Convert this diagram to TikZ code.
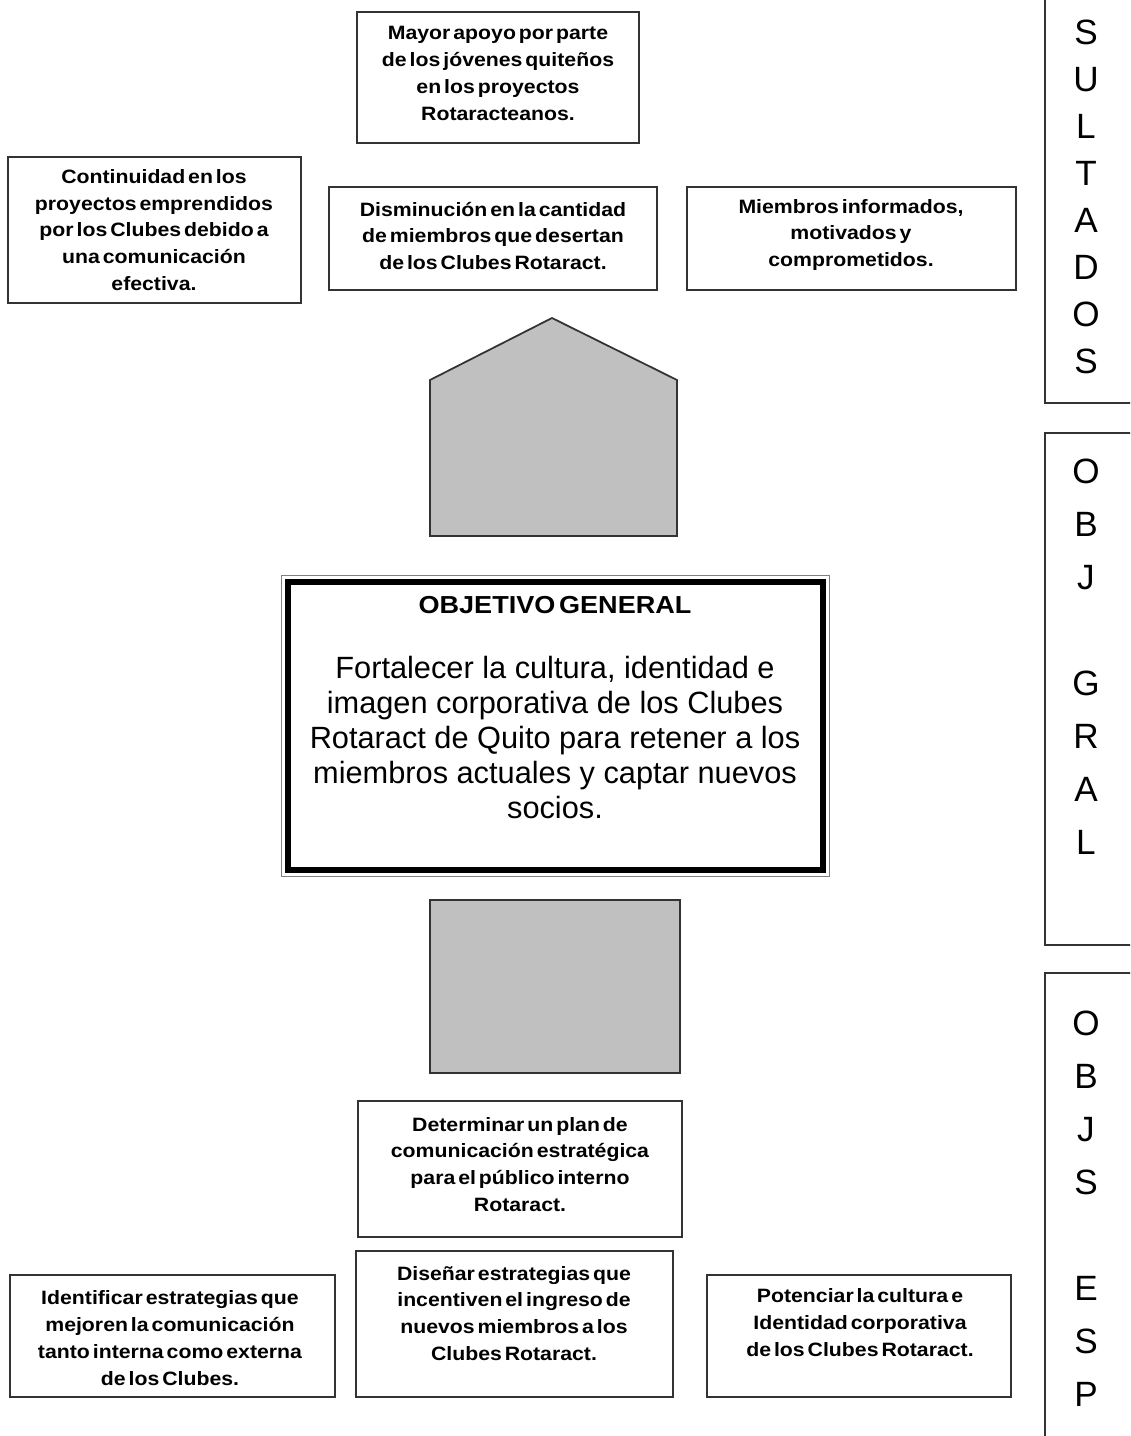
\documentclass[tikz,border=0pt]{standalone}
\usepackage{fontspec}
\setmainfont{Liberation Sans}
\newfontfamily\boxfont[FakeStretch=1.1,WordSpace=0.5]{Liberation Sans}
\usepackage{xcolor}
\usepackage{tikz}
\usetikzlibrary{calc,positioning}
\definecolor{edgegray}{HTML}{333333}
\definecolor{fillgray}{HTML}{C0C0C0}
\tikzset{
  box/.style={draw=edgegray,line width=0.9pt,inner sep=0pt},
  boxtxt/.style={align=center,inner sep=0pt,font={\boxfont\bfseries\fontsize{11pt}{15.3pt}\selectfont}},
  grayshape/.style={draw=edgegray,line width=1pt,fill=fillgray},
  colltr/.style={align=center,inner sep=0pt}
}

\begin{document}
\begin{tikzpicture}[x=0.02cm,y=-0.02cm]
\clip (0,0) rectangle (1130,1436);
\fill[white] (0,0) rectangle (1130,1436);
% resultados
\node[box,minimum width=5.64cm,minimum height=2.62cm] (mayor) at (498,77.5) {};
\node[boxtxt] (mayortxt) at (498,73.5) {Mayor apoyo por parte\\de los jóvenes quiteños\\en los proyectos\\Rotaracteanos.};
\node[box,minimum width=5.86cm,minimum height=2.92cm] (contin) at (154.5,230) {};
\node[boxtxt] (contintxt) at (154,230) {Continuidad en los\\proyectos emprendidos\\por los Clubes debido a\\una comunicación\\efectiva.};
\node[box,minimum width=6.56cm,minimum height=2.06cm] (dismin) at (493,238.5) {};
\node[boxtxt] (dismintxt) at (493,236) {Disminución en la cantidad\\de miembros que desertan\\de los Clubes Rotaract.};
\node[box,minimum width=6.58cm,minimum height=2.06cm] (miemb) at (851.5,238.5) {};
\node[boxtxt] (miembtxt) at (851,235) {Miembros informados,\\motivados y\\comprometidos.};
\draw[grayshape] (552,318) -- (677,380) -- (677,536) -- (430,536) -- (430,380) -- cycle;
% objetivo general
\node[draw=black,line width=3.4pt,outer sep=0pt,minimum width=10.7cm,minimum height=5.76cm,inner sep=0pt] (objgen) at (555.5,726) {};
\draw[gray,line width=0.7pt] ([shift={(-3.8pt,3.8pt)}]objgen.north west) rectangle ([shift={(3.8pt,-3.8pt)}]objgen.south east);
\node[font={\boxfont\bfseries\fontsize{14pt}{16pt}\selectfont},inner sep=0pt] (objtit) at (555,605) {OBJETIVO GENERAL};
\node[align=center,inner sep=0pt,font={\fontsize{17.5pt}{20pt}\selectfont}] (objtxt) at (555,737.5) {Fortalecer la cultura, identidad e\\imagen corporativa de los Clubes\\Rotaract de Quito para retener a los\\miembros actuales y captar nuevos\\socios.};
\draw[grayshape] (430,900) rectangle (680,1073);
% objetivos especificos
\node[box,minimum width=6.48cm,minimum height=2.72cm] (determ) at (520,1169) {};
\node[boxtxt] (determtxt) at (520,1164.5) {Determinar un plan  de\\comunicación estratégica\\para el público interno\\Rotaract.};
\node[box,minimum width=6.5cm,minimum height=2.44cm] (ident) at (172.5,1336) {};
\node[boxtxt] (identtxt) at (170,1338) {Identificar estrategias que\\mejoren la comunicación\\tanto interna como externa\\de los Clubes.};
\node[box,minimum width=6.34cm,minimum height=2.92cm] (disen) at (514.5,1324) {};
\node[boxtxt] (disentxt) at (514,1313.5) {Diseñar  estrategias que\\incentiven el ingreso de\\nuevos miembros a los\\Clubes Rotaract.};
\node[box,minimum width=6.08cm,minimum height=2.44cm] (potenc) at (859,1336) {};
\node[boxtxt] (potenctxt) at (860,1322.5) {Potenciar la cultura e\\Identidad corporativa\\de los Clubes Rotaract.};
% columna derecha
\draw[box] (1045,-20) rectangle (1150,403);
\draw[box] (1045,433) rectangle (1150,945);
\draw[box] (1045,973) rectangle (1150,1460);
\node[colltr,font={\fontsize{20pt}{26.7pt}\selectfont}] (resul) at (1086,173.5) {E\\S\\U\\L\\T\\A\\D\\O\\S};
\node[colltr,font={\fontsize{20pt}{30.2pt}\selectfont}] (gral) at (1086,656.5) {O\\B\\J\\\mbox{}\\G\\R\\A\\L};
\node[colltr,font={\fontsize{20pt}{30.2pt}\selectfont}] (esp) at (1086,1208.5) {O\\B\\J\\S\\\mbox{}\\E\\S\\P};
\end{tikzpicture}
\end{document}
